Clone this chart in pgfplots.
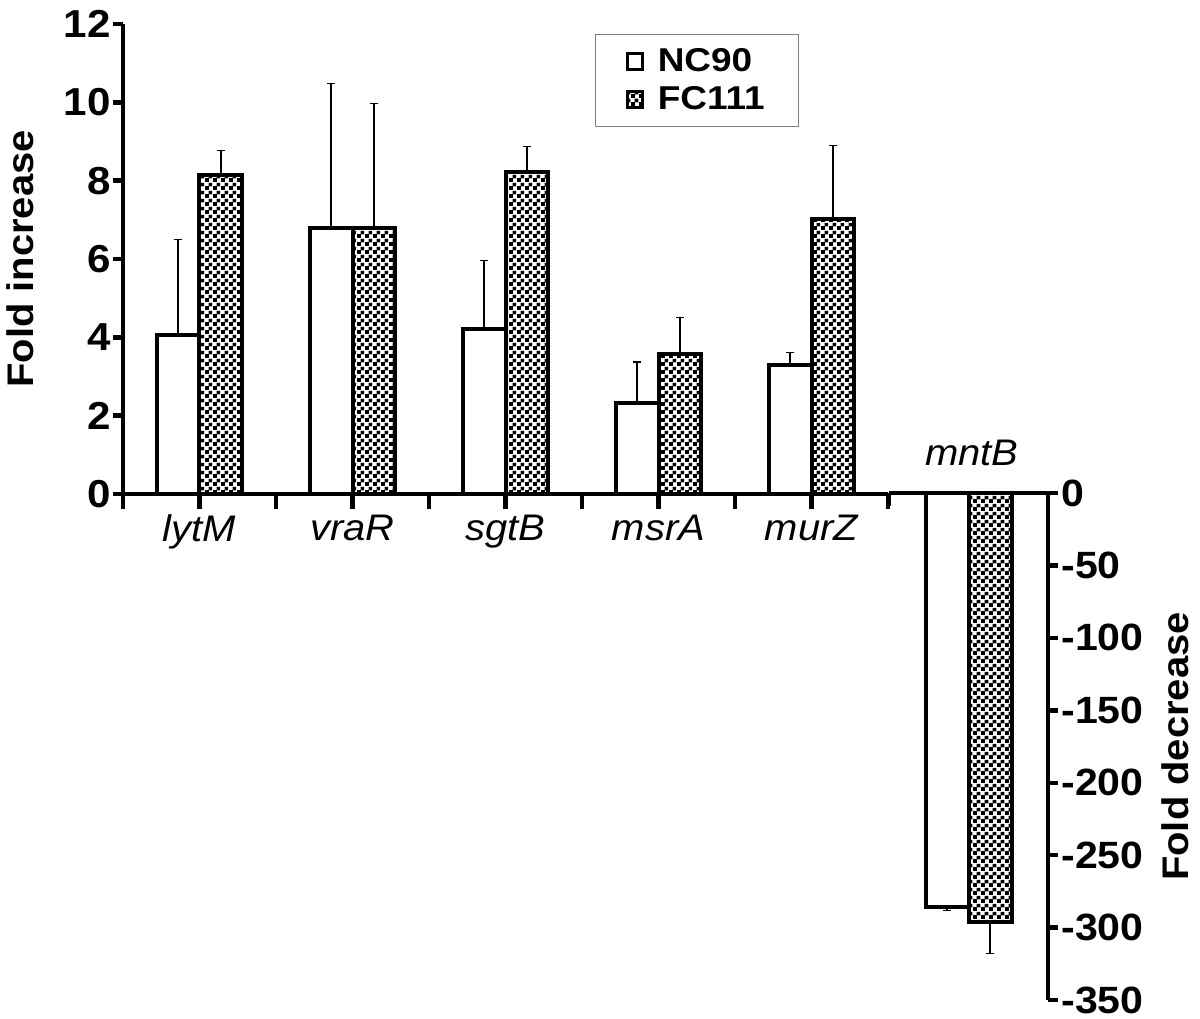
\documentclass[border=0pt]{standalone}
\usepackage{fontspec}
\setmainfont{Liberation Sans}[FakeStretch=1.08]
\newfontfamily\legfont{Liberation Sans}[FakeStretch=1.12]
\usepackage{pgfplots}
\usepackage{pgfplotstable}
\pgfplotsset{compat=1.18}
\usetikzlibrary{patterns}

\pgfdeclarepatternformonly{finechecker}{\pgfqpoint{0pt}{0pt}}{\pgfqpoint{3.8pt}{3.8pt}}{\pgfqpoint{3.8pt}{3.8pt}}{%
  \pgfpathrectangle{\pgfqpoint{0pt}{0pt}}{\pgfqpoint{2pt}{2pt}}%
  \pgfpathrectangle{\pgfqpoint{1.9pt}{1.9pt}}{\pgfqpoint{1.9pt}{1.9pt}}%
  \pgfusepath{fill}}

\pgfplotstableread{
x nc ncerr fc fcerr
0 4.05 2.45 8.14 0.64
1 6.80 3.68 6.80 3.18
2 4.21 1.76 8.21 0.66
3 2.32 1.05 3.57 0.93
4 3.30 0.32 7.02 1.88
}\up
\pgfplotstableread{
x nc ncerr fc fcerr
0 -286 2 -296 22
}\down

\newcommand{\tfont}{\fontsize{18.5}{20}\selectfont}
\newcommand{\nfont}{\fontsize{19.5}{21}\selectfont}
\newcommand{\rfont}{\fontsize{19}{21}\selectfont}
\pgfplotsset{
  errstyle/.style={error bars/.cd, y explicit, error mark=-,
    error bar style={line width=0.6pt, black},
    error mark options={rotate=90, line width=0.6pt, mark size=1.9pt, black}},
}

\begin{document}
\begin{tikzpicture}
\path[use as bounding box] (0,0) rectangle (600pt,-509pt);
\begin{axis}[
  at={(61.5pt,-247pt)}, anchor=south west,
  scale only axis, width=382.5pt, height=235pt,
  xmin=-0.5, xmax=4.5, ymin=0, ymax=12,
  axis lines*=left,
  axis line style={line width=2.2pt, black},
  tick align=outside, major tick length=5pt,
  tick style={line width=2.2pt, black},
  ytick={0,2,...,12}, yticklabels={0,2,4,6,8,10,12},
  yticklabel style={font=\nfont\bfseries, inner sep=1pt},
  xtick={-0.5,0.5,...,4.5}, xticklabels={,,,,,},
  xtick style={/pgfplots/major tick length=7.5pt},
  extra x ticks={0,1,2,3,4},
  extra x tick labels={lytM,vraR,sgtB,msrA,murZ},
  extra x tick style={major tick length=0pt, xticklabel style={font=\tfont\itshape, yshift=-7pt}},
  ylabel={Fold increase},
  ylabel style={at={(axis description cs:-0.1346,0.5)}, anchor=center, font=\tfont\bfseries},
  legend style={at={(rel axis cs:0.617,0.979)}, anchor=north west,
    draw=gray, line width=0.6pt, font=\legfont\bfseries\fontsize{16.5}{18}\selectfont,
    inner xsep=15pt, inner ysep=5pt, row sep=2pt},
  legend cell align=left,
  legend image code/.code={\draw[#1,/tikz/.cd,line width=1.5pt] (0pt,-3.8pt) rectangle (7.6pt,3.8pt);},
]
\addplot[ybar, bar width=0.281, bar shift=0pt, fill=white, draw=black, line width=2pt, errstyle, y dir=plus]
  table[x expr=\thisrow{x}-0.1405, y=nc, y error=ncerr]{\up};
\addlegendentry{\hspace{5pt}NC90}
\addplot[ybar, bar width=0.281, bar shift=0pt, pattern=finechecker, pattern color=black, draw=black, line width=2pt, errstyle, y dir=plus]
  table[x expr=\thisrow{x}+0.1405, y=fc, y error=fcerr]{\up};
\addlegendentry{\hspace{5pt}FC111}
\end{axis}

\begin{axis}[
  at={(444.5pt,-500pt)}, anchor=south west,
  scale only axis, width=79.5pt, height=253.5pt,
  xmin=-0.5, xmax=0.5, ymin=-350, ymax=0,
  axis x line=none, axis y line*=right,
  axis line style={line width=2.2pt, black},
  tick align=outside, major tick length=5pt,
  tick style={line width=2.2pt, black},
  ytick={-350,-300,...,0}, yticklabels={-350,-300,-250,-200,-150,-100,-50,0},
  yticklabel style={font=\rfont\bfseries, inner sep=0pt, xshift=1.5pt},
  ylabel={Fold decrease},
  ylabel style={at={(axis description cs:1.799,0.5)}, anchor=center, font=\tfont\bfseries},
  clip=false,
]
\addplot[ybar, bar width=0.2704, bar shift=0pt, fill=white, draw=black, line width=2pt, errstyle, y dir=minus]
  table[x expr=\thisrow{x}-0.1352, y=nc, y error=ncerr]{\down};
\addplot[ybar, bar width=0.2704, bar shift=0pt, pattern=finechecker, pattern color=black, draw=black, line width=2pt, errstyle, y dir=minus]
  table[x expr=\thisrow{x}+0.1352, y=fc, y error=fcerr]{\down};
\draw[line width=2.2pt] (axis cs:-0.5,0) -- (axis cs:0.5,0);
\draw[line width=2.2pt] (axis cs:-0.5,0) -- ++(0pt,-6.5pt);
\node[anchor=base, yshift=14pt, font=\tfont\itshape] at (axis cs:0.02,0) {mntB};
\end{axis}
\end{tikzpicture}
\end{document}
